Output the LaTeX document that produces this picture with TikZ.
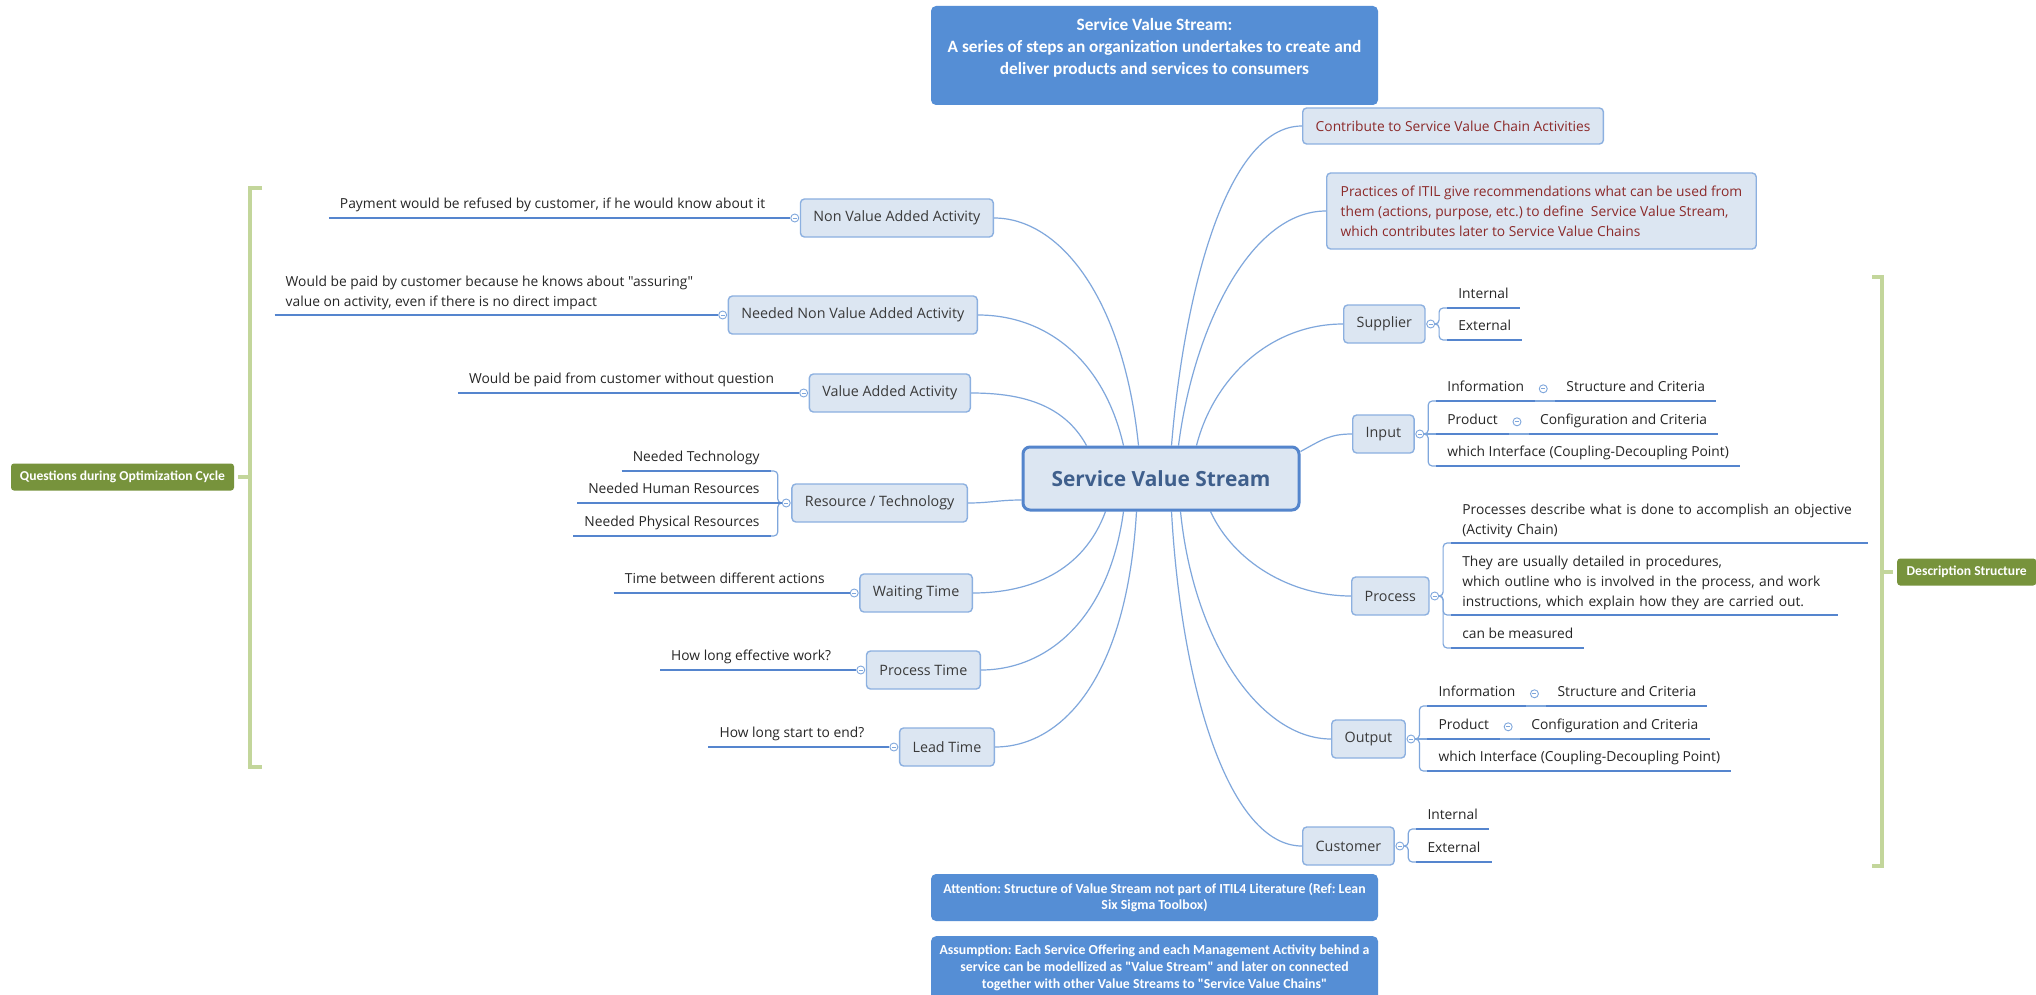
\documentclass[tikz,border=0pt]{standalone}
\usepackage{fontspec}
\setmainfont{Open Sans}
\newfontfamily\osans{Open Sans}
\newfontfamily\calib{Carlito}
\usetikzlibrary{calc}
\frenchspacing

\definecolor{topicfill}{HTML}{DCE6F2}
\definecolor{topicline}{HTML}{8CB0E0}
\definecolor{coreline}{HTML}{5485CC}
\definecolor{coretext}{HTML}{3F5F8C}
\definecolor{connc}{HTML}{7FA7DC}
\definecolor{ulc}{HTML}{5585CE}
\definecolor{notefill}{HTML}{558ED5}
\definecolor{greenbox}{HTML}{77933C}
\definecolor{greenbar}{HTML}{C3D69B}
\definecolor{txt}{HTML}{262626}
\definecolor{boxtxt}{HTML}{3A3A3A}
\definecolor{redtxt}{HTML}{8C2A2A}

\newcommand\mmLeaf{\osans\fontsize{13.8pt}{20pt}\selectfont}
\newcommand\mmBox{\osans\fontsize{14.3pt}{18pt}\selectfont}
\newcommand\mmCore{\osans\bfseries\fontsize{20.9pt}{25pt}\selectfont}
\newcommand\mmNote{\calib\bfseries\fontsize{13.8pt}{16.8pt}\selectfont}
\newcommand\mmTag{\calib\bfseries\fontsize{13.6pt}{16.5pt}\selectfont}
\newcommand\mmTitle{\calib\bfseries\fontsize{17.3pt}{22pt}\selectfont}

\pgfdeclarelayer{paper}
\pgfdeclarelayer{back}
\pgfsetlayers{paper,back,main}

\tikzset{
  topic/.style={draw=topicline, fill=topicfill, line width=1.4pt, rounded corners=4pt,
    font=\mmBox, text=boxtxt, inner xsep=13pt, inner ysep=0pt, minimum height=38pt},
  core/.style={draw=coreline, fill=topicfill, line width=3pt, rounded corners=7pt,
    font=\mmCore, text=coretext, minimum width=276pt, minimum height=63pt},
  knob/.style={circle, draw=connc, fill=white, line width=0.9pt, minimum size=8pt, inner sep=0pt,
    path picture={\draw[connc, line width=0.8pt]
      ([xshift=-2pt]path picture bounding box.center) -- ([xshift=2pt]path picture bounding box.center);}},
  leaf/.style={font=\mmLeaf, text=txt, inner xsep=11pt, inner ysep=5pt, text height=10pt, text depth=4pt},
  leafm/.style={font=\mmLeaf, text=txt, inner xsep=11pt, inner ysep=5pt, align=left},
  conn/.style={draw=connc, line width=1.2pt},
  brk/.style={conn, rounded corners=4pt},
  uline/.style={draw=ulc, line width=1.8pt},
  note/.style={fill=notefill, rounded corners=5pt, text=white, font=\mmNote, align=center},
  gbox/.style={fill=greenbox, rounded corners=3pt, text=white, font=\mmTag, inner sep=0pt, minimum height=27pt},
  gbar/.style={draw=greenbar, line width=4pt},
}

\begin{document}
\begin{tikzpicture}[x=1pt,y=-1pt]
\useasboundingbox (0,0) rectangle (2036,995);
\clip (0,0) rectangle (2036,995);
\begin{pgfonlayer}{paper}
\fill[white] (0,0) rectangle (2036,995);
\end{pgfonlayer}

% ---------- notes ----------
\node[note, minimum width=447pt, minimum height=99pt] (topbox) at (1154.5,55.5) {};
\node[anchor=north, inner sep=0pt, text=white, font=\mmTitle, align=center] (toptext)
  at ([yshift=-12.5pt]topbox.north)
  {Service Value Stream:\\A series of steps an organization undertakes to create and\\deliver products and services to consumers};

\node[note, minimum width=447pt, minimum height=47pt] (attn) at (1154.5,897.5)
  {Attention: Structure of Value Stream not part of ITIL4 Literature (Ref: Lean\\Six Sigma Toolbox)};

\node[note, minimum width=447pt, minimum height=80pt, anchor=north] (asmbox) at (1154.5,936) {};
\node[anchor=north, inner sep=0pt, text=white, font=\mmNote, align=center] (asmtext)
  at ([yshift=-8.5pt]asmbox.north)
  {Assumption: Each Service Offering and each Management Activity behind a\\service can be modellized as "Value Stream" and later on connected\\together with other Value Streams to "Service Value Chains"};

% ---------- central topic ----------
\node[core] (cv) at (1161,478.5) {Service Value Stream};

% ---------- right branches ----------
\node[topic, anchor=west, text=redtxt, font=\mmLeaf, minimum height=36pt] (con) at (1302,126)
  {Contribute to Service Value Chain Activities};
\node[topic, anchor=west, text=redtxt, font=\mmLeaf, align=left, inner xsep=14pt, minimum height=76pt] (pra) at (1326,211)
  {Practices of ITIL give recommendations what can be used from\\them (actions, purpose, etc.) to define\ \ Service Value Stream,\\which contributes later to Service Value Chains};

% Supplier
\node[topic, anchor=west] (sup) at (1343,324) {Supplier};
\node[knob] (ksup) at ([xshift=5pt]sup.east) {};
\node[leaf, anchor=south west] (supi) at ([xshift=12pt,yshift=16pt]ksup.east) {Internal};
\node[leaf, anchor=south west] (supe) at ([xshift=12pt,yshift=-16pt]ksup.east) {External};

% Input
\node[topic, anchor=west] (inp) at (1352,434) {Input};
\node[knob] (kinp) at ([xshift=5pt]inp.east) {};
\node[leaf, anchor=south west] (inpa) at ([xshift=12pt,yshift=33pt]kinp.east) {Information};
\node[knob] (kinpa) at ([xshift=8pt]inpa.east) {};
\node[leaf, anchor=south west] (inpa2) at ([xshift=20pt]inpa.south east) {Structure and Criteria};
\node[leaf, anchor=south west] (inpb) at ([xshift=12pt]kinp.east) {Product};
\node[knob] (kinpb) at ([xshift=8pt]inpb.east) {};
\node[leaf, anchor=south west] (inpb2) at ([xshift=20pt]inpb.south east) {Configuration and Criteria};
\node[leaf, anchor=south west] (inpc) at ([xshift=12pt,yshift=-32pt]kinp.east) {which Interface (Coupling-Decoupling Point)};

% Process
\node[topic, anchor=west] (prc) at (1351,596) {Process};
\node[knob] (kprc) at ([xshift=5pt]prc.east) {};
\node[leafm, anchor=south west, text width=394pt] (prca) at ([xshift=12pt,yshift=53pt]kprc.east)
  {Processes describe what is done to accomplish an objective\\(Activity Chain)};
\node[leafm, anchor=south west, text width=364pt] (prcb) at ([xshift=12pt,yshift=-19pt]kprc.east)
  {They are usually detailed in procedures,\\which outline who is involved in the process, and work\\instructions, which explain how they are carried out.};
\node[leaf, anchor=south west] (prcc) at ([xshift=12pt,yshift=-52pt]kprc.east) {can be measured};

% Output
\node[topic, anchor=west] (out) at (1331,739) {Output};
\node[knob] (kout) at ([xshift=5pt]out.east) {};
\node[leaf, anchor=south west] (outa) at ([xshift=12pt,yshift=33pt]kout.east) {Information};
\node[knob] (kouta) at ([xshift=8pt]outa.east) {};
\node[leaf, anchor=south west] (outa2) at ([xshift=20pt]outa.south east) {Structure and Criteria};
\node[leaf, anchor=south west] (outb) at ([xshift=12pt]kout.east) {Product};
\node[knob] (koutb) at ([xshift=8pt]outb.east) {};
\node[leaf, anchor=south west] (outb2) at ([xshift=20pt]outb.south east) {Configuration and Criteria};
\node[leaf, anchor=south west] (outc) at ([xshift=12pt,yshift=-32pt]kout.east) {which Interface (Coupling-Decoupling Point)};

% Customer
\node[topic, anchor=west] (cus) at (1302,846) {Customer};
\node[knob] (kcus) at ([xshift=5pt]cus.east) {};
\node[leaf, anchor=south west] (cusi) at ([xshift=12pt,yshift=17pt]kcus.east) {Internal};
\node[leaf, anchor=south west] (cuse) at ([xshift=12pt,yshift=-16pt]kcus.east) {External};

% ---------- left branches ----------
\node[topic, anchor=east] (nva) at (994,218) {Non Value Added Activity};
\node[knob] (knva) at ([xshift=-5pt]nva.west) {};
\node[leaf, anchor=south east] (lnva) at ([xshift=-14pt]knva.west)
  {Payment would be refused by customer, if he would know about it};

\node[topic, anchor=east] (nnva) at (978,315) {Needed Non Value Added Activity};
\node[knob] (knnva) at ([xshift=-5pt]nnva.west) {};
\node[leafm, anchor=south east] (lnnva) at ([xshift=-14pt]knnva.west)
  {Would be paid by customer because he knows about "assuring"\\value on activity, even if there is no direct impact};

\node[topic, anchor=east] (va) at (971,393) {Value Added Activity};
\node[knob] (kva) at ([xshift=-5pt]va.west) {};
\node[leaf, anchor=south east] (lva) at ([xshift=-14pt]kva.west)
  {Would be paid from customer without question};

\node[topic, anchor=east] (rt) at (968,503) {Resource / Technology};
\node[knob] (krt) at ([xshift=-5pt]rt.west) {};
\node[leaf, anchor=south east] (rta) at ([xshift=-11pt,yshift=32pt]krt.west) {Needed Technology};
\node[leaf, anchor=south east] (rtb) at ([xshift=-11pt]krt.west) {Needed Human Resources};
\node[leaf, anchor=south east] (rtc) at ([xshift=-11pt,yshift=-33pt]krt.west) {Needed Physical Resources};

\node[topic, anchor=east] (wt) at (973,593) {Waiting Time};
\node[knob] (kwt) at ([xshift=-5pt]wt.west) {};
\node[leaf, anchor=south east] (lwt) at ([xshift=-14pt]kwt.west) {Time between different actions};

\node[topic, anchor=east] (pt) at (981,670) {Process Time};
\node[knob] (kpt) at ([xshift=-5pt]pt.west) {};
\node[leaf, anchor=south east] (lpt) at ([xshift=-14pt]kpt.west) {How long effective work?};

\node[topic, anchor=east] (lt) at (995,747) {Lead Time};
\node[knob] (klt) at ([xshift=-5pt]lt.west) {};
\node[leaf, anchor=south east] (llt) at ([xshift=-14pt]klt.west) {How long start to end?};

% ---------- summary brackets ----------
\node[gbox, minimum width=223pt] (qoc) at (122.5,477) {Questions during Optimization Cycle};
\coordinate (qtop) at (262,188);
\coordinate (qbot) at (262,767);
\draw[gbar] (qtop) -- (250,188) -- (250,767) -- (qbot);
\draw[gbar] (250,477) -- ([xshift=4pt]qoc.east);

\node[gbox, minimum width=139pt, anchor=west] (dst) at (1897,572) {Description Structure};
\coordinate (dtop) at (1872,277);
\coordinate (dbot) at (1872,866);
\draw[gbar] (dtop) -- (1882,277) -- (1882,866) -- (dbot);
\draw[gbar] (1882,572) -- ([xshift=-4pt]dst.west);

% ---------- connector anchors on the central topic ----------
\coordinate (sVA)   at ([xshift=65pt]cv.north west);
\coordinate (sNNVA) at ([xshift=102pt]cv.north west);
\coordinate (sNVA)  at ([xshift=117pt]cv.north west);
\coordinate (sCON)  at ([xshift=150pt]cv.north west);
\coordinate (sPRA)  at ([xshift=157pt]cv.north west);
\coordinate (sSUP)  at ([xshift=175pt]cv.north west);
\coordinate (sINP)  at ([yshift=-6pt]cv.north east);
\coordinate (sRT)   at ([yshift=-21.5pt]cv.west);
\coordinate (sWT)   at ([xshift=84pt]cv.south west);
\coordinate (sPT)   at ([xshift=102pt]cv.south west);
\coordinate (sLT)   at ([xshift=115pt]cv.south west);
\coordinate (sCUS)  at ([xshift=150pt]cv.south west);
\coordinate (sOUT)  at ([xshift=159pt]cv.south west);
\coordinate (sPRC)  at ([xshift=189pt]cv.south west);

% ---------- underlines ----------
\draw[uline] (supi.south west) -- (supi.south east);
\draw[uline] (supe.south west) -- (supe.south east);
\draw[uline] (inpa.south west) -- (inpa.south east);
\draw[uline] (inpa2.south west) -- (inpa2.south east);
\draw[uline] (inpb.south west) -- (inpb.south east);
\draw[uline] (inpb2.south west) -- (inpb2.south east);
\draw[uline] (inpc.south west) -- (inpc.south east);
\draw[uline] (prca.south west) -- (prca.south east);
\draw[uline] (prcb.south west) -- (prcb.south east);
\draw[uline] (prcc.south west) -- (prcc.south east);
\draw[uline] (outa.south west) -- (outa.south east);
\draw[uline] (outa2.south west) -- (outa2.south east);
\draw[uline] (outb.south west) -- (outb.south east);
\draw[uline] (outb2.south west) -- (outb2.south east);
\draw[uline] (outc.south west) -- (outc.south east);
\draw[uline] (cusi.south west) -- (cusi.south east);
\draw[uline] (cuse.south west) -- (cuse.south east);
\draw[uline] (lnva.south west) -- (knva.west);
\draw[uline] (lnnva.south west) -- (knnva.west);
\draw[uline] (lva.south west) -- (kva.west);
\draw[uline] (rta.south west) -- (rta.south east);
\draw[uline] (rtb.south west) -- (krt.west);
\draw[uline] (rtc.south west) -- (rtc.south east);
\draw[uline] (lwt.south west) -- (kwt.west);
\draw[uline] (lpt.south west) -- (kpt.west);
\draw[uline] (llt.south west) -- (klt.west);

% ---------- connectors ----------
\begin{pgfonlayer}{back}
\draw[conn] (sCON) .. controls +(12,-147) and +(-77,0) .. (con.west);
\draw[conn] (sPRA) .. controls +(15,-117) and +(-76,0) .. (pra.west);
\draw[conn] (sSUP) .. controls +(17,-67) and +(-73,0) .. (sup.west);
\draw[conn] (sINP) .. controls +(22,-12) and +(-22,0) .. (inp.west);
\draw[conn] (sPRC) .. controls +(23,50) and +(-61,0) .. (prc.west);
\draw[conn] (sOUT) .. controls +(13,130) and +(-71,0) .. (out.west);
\draw[conn] (sCUS) .. controls +(10,180) and +(-72,0) .. (cus.west);
\draw[conn] (sNVA) .. controls +(-15,-147) and +(66,0) .. (nva.east);
\draw[conn] (sNNVA) .. controls +(-20,-87) and +(67,0) .. (nnva.east);
\draw[conn] (sVA) .. controls +(-23,-42) and +(49,0) .. (va.east);
\draw[conn] (sRT) .. controls +(-23,0) and +(22,0) .. (rt.east);
\draw[conn] (sWT) .. controls +(-22,60) and +(57,0) .. (wt.east);
\draw[conn] (sPT) .. controls +(-15,110) and +(64,0) .. (pt.east);
\draw[conn] (sLT) .. controls +(-10,170) and +(65,0) .. (lt.east);

% brackets from the collapse knobs to the sub-topics
\draw[brk] (ksup.east) -- ++(4pt,0) |- (supi.south west);
\draw[brk] (ksup.east) -- ++(4pt,0) |- (supe.south west);
\draw[brk] (kinp.east) -- ++(4pt,0) |- (inpa.south west);
\draw[conn] (kinp.east) -- (inpb.south west);
\draw[brk] (kinp.east) -- ++(4pt,0) |- (inpc.south west);
\draw[conn] (inpa.south east) -- (inpa2.south west);
\draw[conn] (inpb.south east) -- (inpb2.south west);
\draw[brk] (kprc.east) -- ++(4pt,0) |- (prca.south west);
\draw[brk] (kprc.east) -- ++(4pt,0) |- (prcb.south west);
\draw[brk] (kprc.east) -- ++(4pt,0) |- (prcc.south west);
\draw[brk] (kout.east) -- ++(4pt,0) |- (outa.south west);
\draw[conn] (kout.east) -- (outb.south west);
\draw[brk] (kout.east) -- ++(4pt,0) |- (outc.south west);
\draw[conn] (outa.south east) -- (outa2.south west);
\draw[conn] (outb.south east) -- (outb2.south west);
\draw[brk] (kcus.east) -- ++(4pt,0) |- (cusi.south west);
\draw[brk] (kcus.east) -- ++(4pt,0) |- (cuse.south west);
\draw[brk] (krt.west) -- ++(-4pt,0) |- (rta.south east);
\draw[brk] (krt.west) -- ++(-4pt,0) |- (rtc.south east);
\end{pgfonlayer}
\end{tikzpicture}
\end{document}
